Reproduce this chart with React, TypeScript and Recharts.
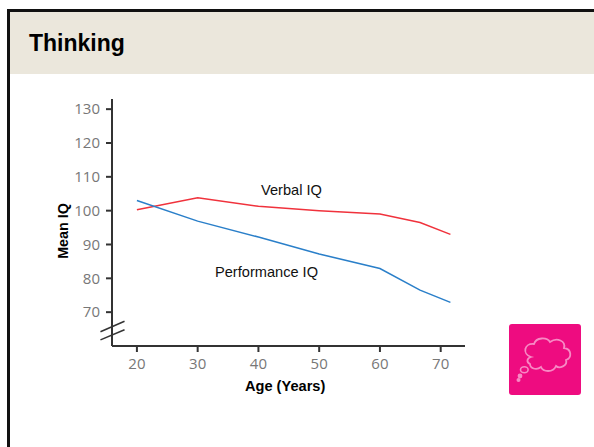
import React from 'react';
import { LineChart, Line, XAxis, YAxis, ReferenceLine } from 'recharts';

const ages = [20, 30, 40, 50, 60, 66.6, 71.6];
const verbalIQ = [100.3, 103.8, 101.3, 100, 99, 96.5, 93];
const performanceIQ = [103, 96.9, 92.2, 87.2, 82.9, 76.5, 72.9];
const xTicks = [20, 30, 40, 50, 60, 70];
const yTicks = [70, 80, 90, 100, 110, 120, 130];
const title = 'Thinking';
const xLabel = 'Age (Years)';
const yLabel = 'Mean IQ';

const rows = ages.map((age, i) => ({ age, verbal: verbalIQ[i], performance: performanceIQ[i] }));
const sans = 'Arial, "Liberation Sans", sans-serif';
const tickFont = { fontFamily: '"Open Sans", sans-serif', fontSize: 15, fill: '#777' };
const axisStroke = { stroke: '#333', strokeWidth: 2 };

export default function App() {
  return (
    <div style={{ position: 'absolute', left: 0, top: 0, width: 594, height: 447, background: '#fff', overflow: 'hidden' }}>
      <div style={{ position: 'absolute', left: 7, top: 9, width: 594, height: 445, borderLeft: '3px solid #111', borderTop: '3px solid #111', boxSizing: 'border-box' }} />
      <div style={{ position: 'absolute', left: 10, top: 12, width: 584, height: 62, background: '#ebe7dc' }} />
      <div style={{ position: 'absolute', left: 29, top: 29, fontFamily: sans, fontWeight: 700, fontSize: 23, lineHeight: '28px', color: '#000' }}>{title}</div>
      <div style={{ position: 'absolute', left: 0, top: 0 }}>
        <LineChart width={594} height={447} data={rows} margin={{ top: 99, right: 129, bottom: 61, left: 52 }}>
          <XAxis
            dataKey="age" type="number" domain={[15.9, 74]} ticks={xTicks} interval={0}
            height={40} tick={tickFont} tickLine={axisStroke} axisLine={axisStroke}
            tickSize={6} tickMargin={6}
          />
          <YAxis
            type="number" domain={[60, 133]} ticks={yTicks} interval={0} width={60} allowDataOverflow
            tick={tickFont} tickLine={axisStroke} axisLine={axisStroke}
            tickSize={6} tickMargin={6}
          />
          <Line dataKey="verbal" stroke="#f0323c" strokeWidth={1.5} dot={false} isAnimationActive={false} />
          <Line dataKey="performance" stroke="#2a7fc9" strokeWidth={1.5} dot={false} isAnimationActive={false} />
          <ReferenceLine ifOverflow="visible" stroke="#fff" strokeWidth={3.5} segment={[{ x: 15.9, y: 63.2 }, { x: 15.9, y: 65.7 }]} />
          <ReferenceLine ifOverflow="visible" stroke="#333" strokeWidth={1.5} segment={[{ x: 14, y: 64.2 }, { x: 17.96, y: 67.3 }]} />
          <ReferenceLine ifOverflow="visible" stroke="#333" strokeWidth={1.5} segment={[{ x: 14, y: 61.8 }, { x: 17.96, y: 64.8 }]} />
        </LineChart>
      </div>
      <div style={{ position: 'absolute', left: 261, top: 182, fontFamily: sans, fontSize: 14.6, lineHeight: '16px', color: '#111' }}>Verbal IQ</div>
      <div style={{ position: 'absolute', left: 215, top: 264, fontFamily: sans, fontSize: 14.6, lineHeight: '16px', color: '#111' }}>Performance IQ</div>
      <div style={{ position: 'absolute', left: 245, top: 379, fontFamily: sans, fontWeight: 700, fontSize: 14.6, lineHeight: '15px', color: '#000' }}>{xLabel}</div>
      <div style={{ position: 'absolute', left: 63, top: 231, transform: 'translate(-50%,-50%) rotate(-90deg)', whiteSpace: 'nowrap', fontFamily: sans, fontWeight: 700, fontSize: 14.3, lineHeight: '15px', color: '#000' }}>{yLabel}</div>
      <svg style={{ position: 'absolute', left: 509, top: 324 }} width={72} height={71} viewBox="0 0 72 71">
        <rect width={72} height={71} rx={3} fill="#ee0c80" />
        <path d="M22 33 C13 30 15 19 25 20 C27 13 38 13 41 18 C48 13 57 17 55 24 C63 25 63 34 57 36 C59 42 50 45 47 42 C44 49 34 48 32 43 C27 47 21 44 21 40 C17 38 18 34 22 33 Z" fill="none" stroke="#f78ac4" strokeWidth={1.8} />
        <ellipse cx={15.3} cy={45.7} rx={3.8} ry={3} fill="none" stroke="#f78ac4" strokeWidth={1.6} />
        <circle cx={11} cy={52} r={2.4} fill="#f78ac4" />
        <circle cx={9.5} cy={56} r={2} fill="#f78ac4" />
      </svg>
    </div>
  );
}
